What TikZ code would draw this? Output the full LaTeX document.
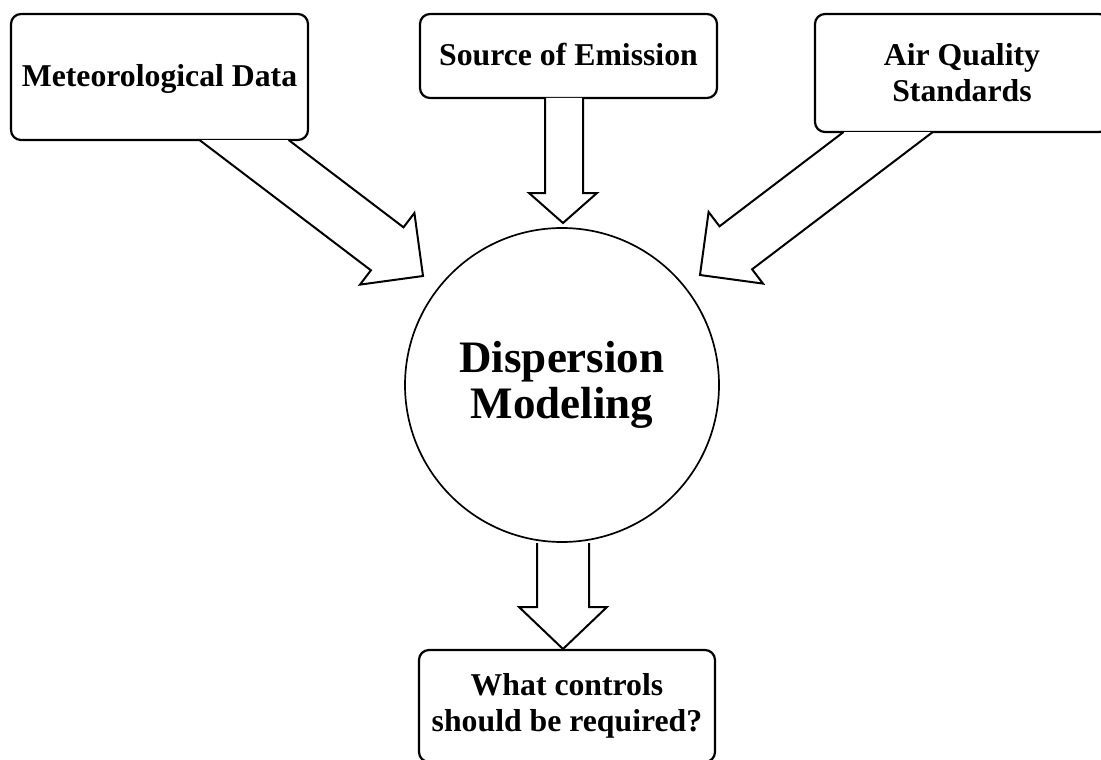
\documentclass[tikz,border=0pt]{standalone}
\usepackage{fontspec}
\setmainfont{Liberation Serif}
\begin{document}
\begin{tikzpicture}[x=1pt,y=-1pt,
  box/.style={draw, line width=2.2pt, rounded corners=10pt, inner sep=0pt,
    font=\fontsize{31.75}{36}\bfseries\selectfont, align=center},
  onebox/.style={box, text height=22pt, text depth=2pt},
  bigcircle/.style={draw, circle, line width=1.7pt, inner sep=0pt, minimum size=314pt,
    font=\fontsize{45}{46}\bfseries\selectfont, align=center},
  blockarrow/.style={draw, line width=2pt, line join=miter, fill=white},
]
\useasboundingbox (0,0) rectangle (1101,760);
\clip (0,0) rectangle (1101,760);

\node[onebox, minimum width=297pt, minimum height=126pt] (met) at (159.5,77) {Meteorological Data};
\node[onebox, minimum width=297pt, minimum height=84pt] (src) at (568.5,56) {Source of Emission};
\node[box, minimum width=294pt, minimum height=118pt] (aq) at (962,73) {Air Quality\\Standards};
\node[bigcircle] (disp) at (562,385) {Dispersion\\Modeling};
\node[box, minimum width=296pt, minimum height=112pt] (ctrl) at (567,706) {What controls\\should be required?};

% block arrows
\draw[blockarrow] (199.5,140) -- (370.9,270.3) -- (360,284.6) -- (423,276) -- (414.4,213) -- (403.5,227.3) -- (288.6,140);
\draw[blockarrow] (545,98) -- (545,193) -- (529,193) -- (563,223) -- (597,193) -- (583,193) -- (583,98);
\draw[blockarrow] (843.6,132) -- (719.5,226.3) -- (708.6,212) -- (700,275) -- (763,283.6) -- (752.1,269.3) -- (932.8,132);
\draw[blockarrow] (537,543) -- (537,607) -- (519,607) -- (563,649) -- (607,607) -- (589,607) -- (589,543);
\end{tikzpicture}
\end{document}
